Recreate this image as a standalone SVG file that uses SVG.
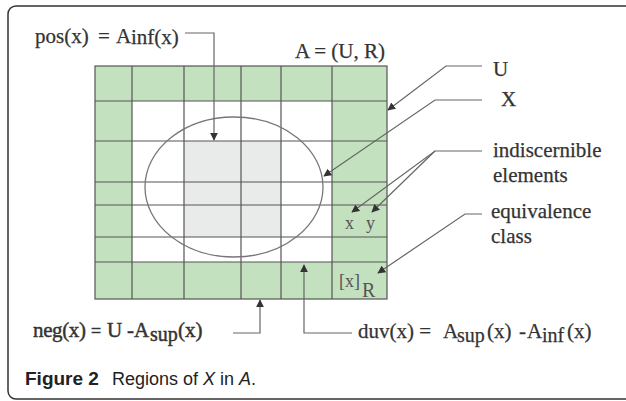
<svg xmlns="http://www.w3.org/2000/svg" width="626" height="401" viewBox="0 0 626 401">
<defs>
<marker id="ah" viewBox="0 0 10 10" refX="9" refY="5" markerWidth="8" markerHeight="8" markerUnits="userSpaceOnUse" orient="auto">
<path d="M0,0 L10,5 L0,10 z" fill="#333"/>
</marker>
<style>
.lbl{font-family:"Liberation Serif","Times New Roman",serif;font-size:21px;fill:#333;stroke:#333;stroke-width:0.25}
.sub{font-size:20px}
.sm{font-size:18px}
.cell{fill:#555;stroke:none}
.grid{stroke:#555;stroke-width:1.2;fill:none}
.green{fill:#c4e1bf}
.gray{fill:#e9eaea}
.conn{stroke:#666;stroke-width:1.2;fill:none;marker-end:url(#ah)}
.cap{font-family:"Liberation Sans",Arial,sans-serif;font-size:18px;fill:#222}
.heavy{stroke-width:0.45}
</style>
</defs>
<rect x="8" y="6" width="660" height="393" rx="8" fill="#fff" stroke="#333" stroke-width="1.5"/>

<g id="universe">
<rect x="95" y="66" width="292" height="233" fill="#fff"/>
<rect class="green" x="95" y="66" width="292" height="35"/>
<rect class="green" x="95" y="262" width="292" height="37"/>
<rect class="green" x="95" y="66" width="37" height="233"/>
<rect class="green" x="332" y="66" width="55" height="233"/>
<rect class="gray" x="184" y="141" width="97" height="96"/>
<path class="grid" d="M132,66V299M184,66V299M241,66V299M281,66V299M332,66V299M95,101H387M95,141H387M95,182H387M95,205H387M95,237H387M95,262H387"/>
<rect class="grid" x="95" y="66" width="292" height="233"/>
</g>

<g id="set-x">
<ellipse cx="234" cy="187" rx="89" ry="70" fill="none" stroke="#777" stroke-width="1.3"/>
</g>

<g id="cell-labels">
<text class="lbl sm cell" x="345" y="229">x</text>
<text class="lbl sm cell" x="366" y="229">y</text>
<text class="lbl sm cell" x="339" y="287">[x]</text>
<text class="lbl sub cell" x="362" y="297">R</text>
</g>

<g id="connectors">
<path class="conn" d="M185,33H214V140"/>
<path class="conn" d="M482,66H446L388,110"/>
<path class="conn" d="M482,100H435L324,176"/>
<path class="conn" d="M482,151H435L352,212"/>
<path class="conn" d="M435,151L372,212"/>
<path class="conn" d="M482,214H465L378,273"/>
<path class="conn" d="M233,333H260V300"/>
<path class="conn" d="M352,333H304V265"/>
</g>

<g id="label-pos">
<text class="lbl" x="35" y="43">pos(x)</text>
<text class="lbl" x="98" y="43">=</text>
<text class="lbl" x="116" y="43">A</text>
<text class="lbl" x="131" y="44">inf(x)</text>
</g>
<g id="label-A">
<text class="lbl" x="295" y="58">A = (U, R)</text>
</g>
<g id="label-U"><text class="lbl" x="493" y="76">U</text></g>
<g id="label-X"><text class="lbl" x="501" y="106">X</text></g>
<g id="label-indiscernible">
<text class="lbl" x="493" y="157">indiscernible</text>
<text class="lbl" x="493" y="182">elements</text>
</g>
<g id="label-equivalence">
<text class="lbl" x="491" y="218">equivalence</text>
<text class="lbl" x="491" y="243">class</text>
</g>
<g id="label-neg">
<text class="lbl heavy" x="33" y="337" textLength="53">neg(x)</text>
<text class="lbl heavy" x="91" y="337" style="font-size:18px">=</text>
<text class="lbl heavy" x="107" y="337">U</text>
<text class="lbl heavy" x="127" y="337">-</text>
<text class="lbl heavy" x="134" y="337">A</text>
<text class="lbl sub heavy" x="150" y="341">sup</text>
<text class="lbl heavy" x="178" y="337">(x)</text>
</g>
<g id="label-duv">
<text class="lbl" x="358" y="338">duv(x) =</text>
<text class="lbl" x="443" y="338">A</text>
<text class="lbl sub" x="457" y="342">sup</text>
<text class="lbl" x="487" y="338">(x)</text>
<text class="lbl" x="519" y="338">-</text>
<text class="lbl" x="527" y="338">A</text>
<text class="lbl sub" x="542" y="342">inf</text>
<text class="lbl" x="567" y="338">(x)</text>
</g>

<g id="caption">
<text class="cap" x="25" y="385"><tspan font-weight="bold" font-size="19">Figure 2</tspan><tspan x="112">Regions of </tspan><tspan font-style="italic">X</tspan><tspan> in </tspan><tspan font-style="italic">A</tspan><tspan>.</tspan></text>
</g>
</svg>
